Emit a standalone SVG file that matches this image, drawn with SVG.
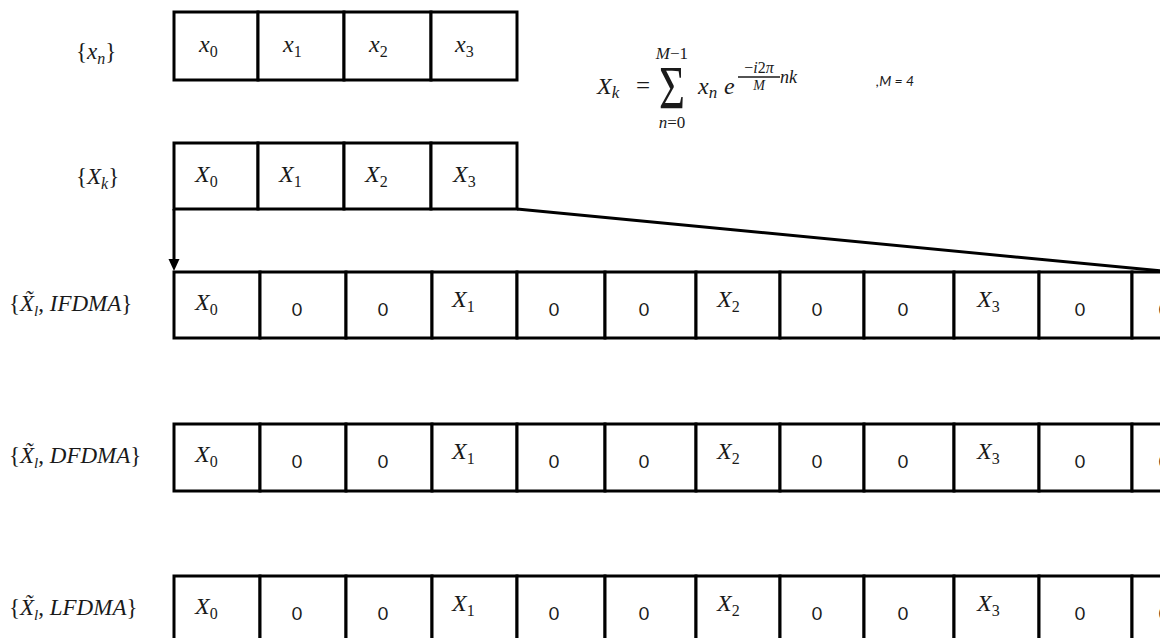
<svg xmlns="http://www.w3.org/2000/svg" width="1160" height="638" viewBox="0 0 1160 638">
<defs>
<style>
.cell{fill:#fff;stroke:#000;stroke-width:3}
.m{font-family:"Liberation Serif",serif;font-style:italic;fill:#1a1a1a}
.u{font-style:normal}
.z{font-family:Lato,"Liberation Sans",sans-serif;font-size:18px;fill:#1a1a1a;text-anchor:middle}
.lbl{font-family:"Liberation Serif",serif;fill:#1a1a1a}
.con{stroke:#000;stroke-width:3;fill:none}
</style>
</defs>
<rect width="1160" height="638" fill="#fff"/>

<!-- labels -->
<g id="labels">
<text class="lbl" x="76" y="59" font-size="23">{<tspan class="m">x</tspan><tspan class="m" font-size="16" dy="5">n</tspan><tspan dy="-5">}</tspan></text>
<text class="lbl" x="76" y="184" font-size="23">{<tspan class="m">X</tspan><tspan class="m" font-size="16" dy="5">k</tspan><tspan dy="-5">}</tspan></text>
<text class="lbl" x="9" y="311" font-size="23">{<tspan class="m">X̃</tspan><tspan class="m" font-size="15" dy="5">l</tspan><tspan dy="-5">, </tspan><tspan class="m">IFDMA</tspan>}</text>
<text class="lbl" x="9" y="463" font-size="23">{<tspan class="m">X̃</tspan><tspan class="m" font-size="15" dy="5">l</tspan><tspan dy="-5">, </tspan><tspan class="m">DFDMA</tspan>}</text>
<text class="lbl" x="9" y="615" font-size="23">{<tspan class="m">X̃</tspan><tspan class="m" font-size="15" dy="5">l</tspan><tspan dy="-5">, </tspan><tspan class="m">LFDMA</tspan>}</text>
</g>

<!-- row x_n -->
<g id="row-xn" font-size="24">
<rect class="cell" x="174" y="12" width="84" height="68"/>
<rect class="cell" x="258" y="12" width="86" height="68"/>
<rect class="cell" x="344" y="12" width="87" height="68"/>
<rect class="cell" x="431" y="12" width="86" height="68"/>
<text class="m" x="199" y="52">x<tspan class="u" font-size="16" dy="5">0</tspan></text>
<text class="m" x="283" y="52">x<tspan class="u" font-size="16" dy="5">1</tspan></text>
<text class="m" x="369" y="52">x<tspan class="u" font-size="16" dy="5">2</tspan></text>
<text class="m" x="455" y="52">x<tspan class="u" font-size="16" dy="5">3</tspan></text>
</g>

<!-- row X_k -->
<g id="row-Xk" font-size="24">
<rect class="cell" x="174" y="143" width="84" height="66"/>
<rect class="cell" x="258" y="143" width="86" height="66"/>
<rect class="cell" x="344" y="143" width="87" height="66"/>
<rect class="cell" x="431" y="143" width="86" height="66"/>
<text class="m" x="195" y="182">X<tspan class="u" font-size="16" dy="5">0</tspan></text>
<text class="m" x="279" y="182">X<tspan class="u" font-size="16" dy="5">1</tspan></text>
<text class="m" x="365" y="182">X<tspan class="u" font-size="16" dy="5">2</tspan></text>
<text class="m" x="453" y="182">X<tspan class="u" font-size="16" dy="5">3</tspan></text>
</g>

<!-- formula -->
<g id="formula">
<text class="m" x="597" y="94" font-size="24">X<tspan font-size="17" dy="4">k</tspan></text>
<text class="m u" x="636" y="94" font-size="25">=</text>
<text class="m u" x="0" y="0" font-size="62" text-anchor="middle" transform="translate(672,108) scale(0.72,1)">Σ</text>
<text class="m" x="672" y="59" font-size="17" text-anchor="middle">M<tspan class="u">−1</tspan></text>
<text class="m" x="672" y="128" font-size="17" text-anchor="middle">n<tspan class="u">=0</tspan></text>
<text class="m" x="698" y="94" font-size="24">x<tspan font-size="17" dy="4">n</tspan></text>
<text class="m" x="724" y="94" font-size="24">e</text>
<text class="m u" x="759" y="73" font-size="16" text-anchor="middle">−<tspan font-style="italic">i</tspan>2<tspan font-style="italic">π</tspan></text>
<line x1="738" y1="77" x2="780" y2="77" stroke="#1a1a1a" stroke-width="1.6"/>
<text class="m" x="759" y="90" font-size="14" text-anchor="middle">M</text>
<text class="m" x="780" y="83" font-size="18">nk</text>
<text x="876" y="86" font-family="Lato,'Liberation Sans',sans-serif" font-size="14" font-style="italic" fill="#1a1a1a">,M = 4</text>
</g>

<!-- row IFDMA -->
<g id="row-IFDMA" font-size="24">
<rect class="cell" x="174" y="272" width="86" height="66"/>
<rect class="cell" x="260" y="272" width="86" height="66"/>
<rect class="cell" x="346" y="272" width="86" height="66"/>
<rect class="cell" x="432" y="272" width="85" height="66"/>
<rect class="cell" x="517" y="272" width="88" height="66"/>
<rect class="cell" x="605" y="272" width="91" height="66"/>
<rect class="cell" x="696" y="272" width="84" height="66"/>
<rect class="cell" x="780" y="272" width="84" height="66"/>
<rect class="cell" x="864" y="272" width="90" height="66"/>
<rect class="cell" x="954" y="272" width="85" height="66"/>
<rect class="cell" x="1039" y="272" width="93" height="66"/>
<rect class="cell" x="1132" y="272" width="80" height="66"/>
<text class="m" x="195" y="310">X<tspan class="u" font-size="16" dy="5">0</tspan></text>
<text class="z" x="297" y="316">0</text>
<text class="z" x="383" y="316">0</text>
<text class="m" x="452" y="307">X<tspan class="u" font-size="16" dy="5">1</tspan></text>
<text class="z" x="554" y="316">0</text>
<text class="z" x="644" y="316">0</text>
<text class="m" x="717" y="307">X<tspan class="u" font-size="16" dy="5">2</tspan></text>
<text class="z" x="817" y="316">0</text>
<text class="z" x="903" y="316">0</text>
<text class="m" x="977" y="307">X<tspan class="u" font-size="16" dy="5">3</tspan></text>
<text class="z" x="1080" y="316">0</text>
<text class="z" x="1164" y="316">0</text>
</g>

<!-- row DFDMA -->
<g id="row-DFDMA" font-size="24">
<rect class="cell" x="174" y="424" width="86" height="67"/>
<rect class="cell" x="260" y="424" width="86" height="67"/>
<rect class="cell" x="346" y="424" width="86" height="67"/>
<rect class="cell" x="432" y="424" width="85" height="67"/>
<rect class="cell" x="517" y="424" width="88" height="67"/>
<rect class="cell" x="605" y="424" width="91" height="67"/>
<rect class="cell" x="696" y="424" width="84" height="67"/>
<rect class="cell" x="780" y="424" width="84" height="67"/>
<rect class="cell" x="864" y="424" width="90" height="67"/>
<rect class="cell" x="954" y="424" width="85" height="67"/>
<rect class="cell" x="1039" y="424" width="93" height="67"/>
<rect class="cell" x="1132" y="424" width="80" height="67"/>
<text class="m" x="195" y="462">X<tspan class="u" font-size="16" dy="5">0</tspan></text>
<text class="z" x="297" y="468">0</text>
<text class="z" x="383" y="468">0</text>
<text class="m" x="452" y="459">X<tspan class="u" font-size="16" dy="5">1</tspan></text>
<text class="z" x="554" y="468">0</text>
<text class="z" x="644" y="468">0</text>
<text class="m" x="717" y="459">X<tspan class="u" font-size="16" dy="5">2</tspan></text>
<text class="z" x="817" y="468">0</text>
<text class="z" x="903" y="468">0</text>
<text class="m" x="977" y="459">X<tspan class="u" font-size="16" dy="5">3</tspan></text>
<text class="z" x="1080" y="468">0</text>
<text class="z" x="1164" y="468">0</text>
</g>

<!-- row LFDMA -->
<g id="row-LFDMA" font-size="24">
<rect class="cell" x="174" y="576" width="86" height="80"/>
<rect class="cell" x="260" y="576" width="86" height="80"/>
<rect class="cell" x="346" y="576" width="86" height="80"/>
<rect class="cell" x="432" y="576" width="85" height="80"/>
<rect class="cell" x="517" y="576" width="88" height="80"/>
<rect class="cell" x="605" y="576" width="91" height="80"/>
<rect class="cell" x="696" y="576" width="84" height="80"/>
<rect class="cell" x="780" y="576" width="84" height="80"/>
<rect class="cell" x="864" y="576" width="90" height="80"/>
<rect class="cell" x="954" y="576" width="85" height="80"/>
<rect class="cell" x="1039" y="576" width="93" height="80"/>
<rect class="cell" x="1132" y="576" width="80" height="80"/>
<text class="m" x="195" y="614">X<tspan class="u" font-size="16" dy="5">0</tspan></text>
<text class="z" x="297" y="620">0</text>
<text class="z" x="383" y="620">0</text>
<text class="m" x="452" y="611">X<tspan class="u" font-size="16" dy="5">1</tspan></text>
<text class="z" x="554" y="620">0</text>
<text class="z" x="644" y="620">0</text>
<text class="m" x="717" y="611">X<tspan class="u" font-size="16" dy="5">2</tspan></text>
<text class="z" x="817" y="620">0</text>
<text class="z" x="903" y="620">0</text>
<text class="m" x="977" y="611">X<tspan class="u" font-size="16" dy="5">3</tspan></text>
<text class="z" x="1080" y="620">0</text>
<text class="z" x="1164" y="620">0</text>
</g>

<!-- connectors -->
<g id="connectors">
<line class="con" x1="174" y1="209" x2="174" y2="262"/>
<polygon points="168.5,259 179.5,259 174,271" fill="#000"/>
<line class="con" x1="517" y1="209" x2="1162" y2="271"/>
</g>
</svg>
